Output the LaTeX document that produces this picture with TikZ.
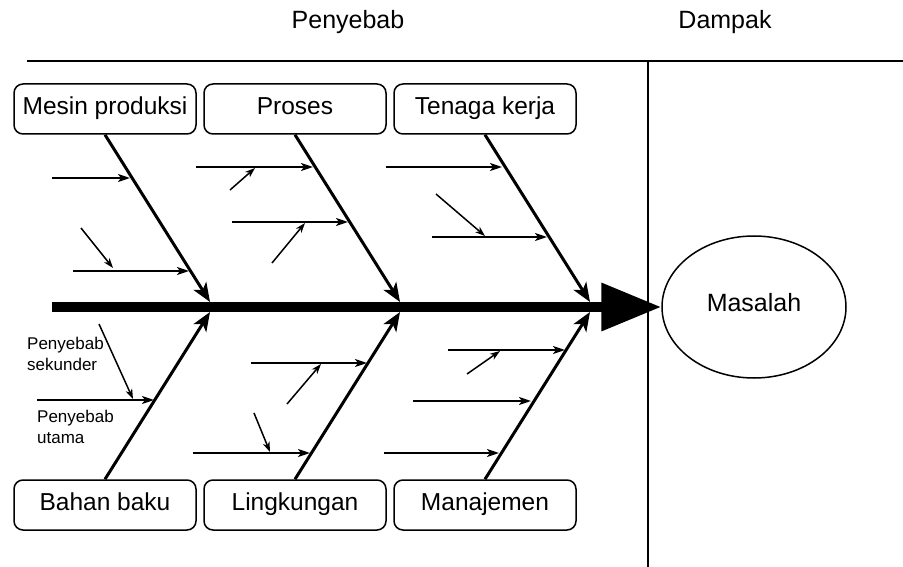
\documentclass[tikz,border=0pt]{standalone}
\usepackage{fontspec}
\setmainfont{Liberation Sans}
\usetikzlibrary{arrows.meta,shapes.geometric}
\begin{document}
\begin{tikzpicture}[x=1pt,y=-1pt,
  catbox/.style={draw, line width=1.5pt, rounded corners=9pt, minimum width=182pt, minimum height=50pt, font=\fontsize{24.5}{28}\selectfont, inner sep=0pt, text height=17pt, text depth=6pt},
  title/.style={font=\fontsize{25}{28}\selectfont, inner sep=0pt},
  bone/.style={line width=3pt, -{Stealth[length=19pt,width=15pt,inset=5pt]}},
  branch/.style={line width=2pt, -{Stealth[length=12pt,width=8pt,inset=3pt]}},
  twig/.style={line width=1.5pt, -{Stealth[length=10pt,width=7pt,inset=3pt]}},
  lbl/.style={font=\fontsize{17}{21}\selectfont, align=left, inner sep=0pt, anchor=north west},
  frame/.style={line width=1.8pt}
]
\useasboundingbox (0,0) rectangle (903,567);

% frame lines and titles
\coordinate (tl) at (27,61);
\coordinate (tr) at (903,61);
\coordinate (vt) at (648,61);
\coordinate (vb) at (648,567);
\draw[frame] (tl) -- (tr);
\draw[line width=1.5pt] (vt) -- (vb);
\node[title] (penyebab) at (348,22) {Penyebab};
\node[title] (dampak) at (725,22) {Dampak};

% category boxes
\node[catbox] (mesin) at (105,109) {Mesin produksi};
\node[catbox] (proses) at (295,109) {Proses};
\node[catbox] (tenaga) at (485,109) {Tenaga kerja};
\node[catbox] (bahan) at (105,505) {Bahan baku};
\node[catbox] (lingk) at (295,505) {Lingkungan};
\node[catbox] (manaj) at (485,505) {Manajemen};

% effect
\node[draw, ellipse, line width=1.5pt, minimum width=184pt, minimum height=142pt, inner sep=0pt, font=\fontsize{25}{28}\selectfont, text height=18pt, text depth=9pt] (masalah) at (754,307) {Masalah};

% spine
\coordinate (s0) at (52,307);
\draw[line width=10pt, -{Triangle[length=60pt,width=46pt]}] (s0) -- (masalah.west);

% main bones
\coordinate (j1t) at (210,302);
\coordinate (j2t) at (400,302);
\coordinate (j3t) at (590,302);
\coordinate (j1b) at (210,312);
\coordinate (j2b) at (400,312);
\coordinate (j3b) at (590,312);
\draw[bone] (mesin.south) -- (j1t);
\draw[bone] (proses.south) -- (j2t);
\draw[bone] (tenaga.south) -- (j3t);
\draw[bone] (bahan.north) -- (j1b);
\draw[bone] (lingk.north) -- (j2b);
\draw[bone] (manaj.north) -- (j3b);

% Mesin produksi branches
\coordinate (m1a) at (52,178); \coordinate (m1b) at (130,178);
\coordinate (m2a) at (73,271); \coordinate (m2b) at (189,271);
\coordinate (m3a) at (81,228); \coordinate (m3b) at (113,268);
\draw[branch] (m1a) -- (m1b);
\draw[branch] (m2a) -- (m2b);
\draw[twig] (m3a) -- (m3b);

% Proses branches
\coordinate (p1a) at (196,167); \coordinate (p1b) at (313,167);
\coordinate (p2a) at (230,190); \coordinate (p2b) at (255,168);
\coordinate (p3a) at (232,222); \coordinate (p3b) at (348,222);
\coordinate (p4a) at (272,263); \coordinate (p4b) at (305,223);
\draw[branch] (p1a) -- (p1b);
\draw[twig] (p2a) -- (p2b);
\draw[branch] (p3a) -- (p3b);
\draw[twig] (p4a) -- (p4b);

% Tenaga kerja branches
\coordinate (t1a) at (386,167); \coordinate (t1b) at (502,167);
\coordinate (t2a) at (436,194); \coordinate (t2b) at (485,236);
\coordinate (t3a) at (432,237); \coordinate (t3b) at (547,237);
\draw[branch] (t1a) -- (t1b);
\draw[twig] (t2a) -- (t2b);
\draw[branch] (t3a) -- (t3b);

% Bahan baku branches
\coordinate (b1a) at (37,400); \coordinate (b1b) at (154,400);
\coordinate (b2a) at (99,324); \coordinate (b2b) at (133,399);
\draw[branch] (b1a) -- (b1b);
\draw[twig] (b2a) -- (b2b);
\node[lbl] (sek) at (27,337) {Penyebab\\sekunder};
\node[lbl] (uta) at (37,410) {Penyebab\\utama};

% Lingkungan branches
\coordinate (l1a) at (251,363); \coordinate (l1b) at (367,363);
\coordinate (l2a) at (287,404); \coordinate (l2b) at (321,364);
\coordinate (l3a) at (193,453); \coordinate (l3b) at (310,453);
\coordinate (l4a) at (254,413); \coordinate (l4b) at (270,452);
\draw[branch] (l1a) -- (l1b);
\draw[twig] (l2a) -- (l2b);
\draw[branch] (l3a) -- (l3b);
\draw[twig] (l4a) -- (l4b);

% Manajemen branches
\coordinate (n1a) at (448,350); \coordinate (n1b) at (565,350);
\coordinate (n2a) at (467,374); \coordinate (n2b) at (500,351);
\coordinate (n3a) at (413,401); \coordinate (n3b) at (531,401);
\coordinate (n4a) at (384,453); \coordinate (n4b) at (499,453);
\draw[branch] (n1a) -- (n1b);
\draw[twig] (n2a) -- (n2b);
\draw[branch] (n3a) -- (n3b);
\draw[branch] (n4a) -- (n4b);
\end{tikzpicture}
\end{document}
